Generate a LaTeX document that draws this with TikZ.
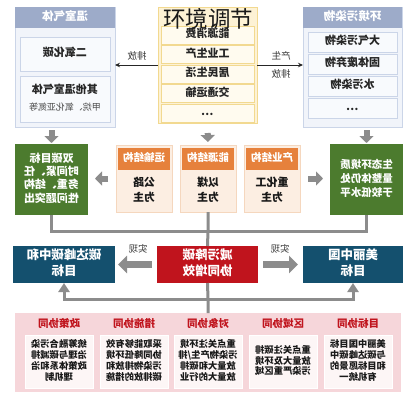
\documentclass[tikz,border=0pt]{standalone}
\usepackage{fontspec}
\setmainfont{Noto Sans CJK SC}
\usepackage{graphicx}
\usetikzlibrary{arrows.meta}
\definecolor{sidehead}{HTML}{9DABC9}
\definecolor{sidebg}{HTML}{F1F4FA}
\definecolor{sideline}{HTML}{CBD5E8}
\definecolor{siderow}{HTML}{F8FAFD}
\definecolor{cbg}{HTML}{FDF2D5}
\definecolor{cline}{HTML}{F2D990}
\definecolor{crowbg}{HTML}{FFFBEF}
\definecolor{ggreen}{HTML}{4C7B2E}
\definecolor{oorange}{HTML}{E6813C}
\definecolor{obg}{HTML}{FCEEE2}
\definecolor{oline}{HTML}{F5D7BE}
\definecolor{bblue}{HTML}{14506E}
\definecolor{rred}{HTML}{C0141D}
\definecolor{pinkbg}{HTML}{F6D6DA}
\definecolor{pwbg}{HTML}{FDF6F6}
\definecolor{agray}{HTML}{8C8C8C}
\newcommand{\mr}[1]{\reflectbox{\begin{tabular}{@{}c@{}}#1\end{tabular}}}
\tikzset{
  sbox/.style={draw=sideline, fill=sidebg, line width=0.8pt, minimum width=100pt, minimum height=120pt},
  shead/.style={fill=sidehead, minimum width=100pt, minimum height=21pt, text=white, font=\bfseries\fontsize{11.5}{13}\selectfont},
  srow/.style={draw=sideline, fill=siderow, line width=0.6pt, minimum width=89pt, minimum height=20pt, text=black!85, font=\bfseries\fontsize{11}{13}\selectfont},
  cbox/.style={draw=cline, fill=cbg, line width=0.8pt, minimum width=99pt, minimum height=116pt},
  crow/.style={draw=cline, fill=crowbg, line width=0.6pt, minimum width=93pt, minimum height=18pt, text=black!85, font=\bfseries\fontsize{11}{13}\selectfont},
  lab/.style={text=black!80, font=\fontsize{9.5}{11}\selectfont},
  thinarrow/.style={draw=black!85, line width=0.9pt, -{Stealth[length=5pt,width=4.5pt]}},
  blk/.style={draw=agray, line width=6pt, -{Triangle[width=14pt,length=7pt]}},
  blkw/.style={draw=agray, line width=7.5pt, -{Triangle[width=17pt,length=9pt]}},
  conn/.style={draw=agray, line width=3pt},
  gbox/.style={fill=ggreen, minimum width=73pt, minimum height=71pt, text=white, font=\bfseries\fontsize{11}{13}\selectfont},
  obox/.style={draw=oline, fill=obg, line width=0.6pt, minimum width=56pt, minimum height=67pt},
  ohead/.style={fill=oorange, minimum width=52pt, minimum height=22pt, text=white, font=\bfseries\fontsize{10.5}{12}\selectfont},
  otext/.style={text=black!90, font=\bfseries\fontsize{11}{15}\selectfont},
  bbox/.style={fill=bblue, minimum height=37pt, text=white, font=\bfseries\fontsize{12.5}{16}\selectfont},
  rbox/.style={fill=rred, minimum height=37pt, text=white, font=\bfseries\fontsize{12.5}{16}\selectfont},
  pbox/.style={fill=pinkbg, minimum width=386pt, minimum height=79pt},
  phead/.style={text=rred, font=\bfseries\fontsize{10.5}{12}\selectfont},
  pw/.style={fill=pwbg, draw=white, line width=0.5pt, minimum width=68pt, minimum height=53pt, text=black!90, font=\bfseries\fontsize{9.3}{9.6}\selectfont},
  titlestyle/.style={text=black!90, font=\fontsize{22.5}{24}\selectfont},
}
\begin{document}
\begin{tikzpicture}[x=1pt,y=-1pt, every node/.append style={inner sep=0pt, outer sep=0pt}]
\useasboundingbox[fill=white] (0,0) rectangle (418,400);

% top left box
\node[sbox] (tl) at (65,67) {};
\node[shead] (tlh) at (65,17.5) {\mr{温室气体}};
\node[srow, minimum width=90pt, minimum height=34pt] (tl1) at (65,54) {\mr{二氧化碳}};
\node[srow, minimum width=90pt, minimum height=46pt] (tl2) at (65,99) {\mr{其他温室气体\\[4pt]{\mdseries\color{black!70}\fontsize{9}{11}\selectfont 甲烷、氧化亚氮等}}};

% top right box
\node[sbox, minimum width=99pt] (tr) at (352.5,67) {};
\node[shead, minimum width=99pt] (trh) at (352.5,17.5) {\mr{环境污染物}};
\node[srow] (tr1) at (352.5,42) {\mr{大气污染物}};
\node[srow] (tr2) at (352.5,64) {\mr{固体废弃物}};
\node[srow] (tr3) at (352.5,86) {\mr{水污染物}};
\node[srow] (tr4) at (352.5,108) {\mr{…}};

% center box
\node[cbox] (cb) at (207.5,65) {};
\node[crow] (c1) at (207.5,35) {\mr{能源消费}};
\node[crow] (c2) at (207.5,54.5) {\mr{工业生产}};
\node[crow] (c3) at (207.5,74) {\mr{居民生活}};
\node[crow] (c4) at (207.5,93.5) {\mr{交通运输}};
\node[crow] (c5) at (207.5,113) {\mr{…}};
\node[titlestyle] (title) at (208,19) {环境调节};

% top arrows
\draw[thinarrow] (cb.west) -- (cb.west -| tl.east);
\draw[thinarrow] (cb.east) -- (cb.east -| tr.west);
\node[lab] (l1) at (137,57) {\mr{排放}};
\node[lab] (l2) at (281,57) {\mr{产生}};
\node[lab] (l3) at (281,75) {\mr{排放}};

% green boxes
\node[gbox] (gl) at (51.5,179.5) {\mr{双碳目标\\时间紧、任\\务重、结构\\性问题突出}};
\node[gbox, font=\bfseries\fontsize{10.5}{14}\selectfont] (gr) at (366.5,179.5) {\mr{生态环境质\\量整体仍处\\于较低水平}};

% orange boxes
\node[obox] (ob1) at (144,178.5) {};
\node[ohead] (oh1) at (144,159) {\mr{运输结构}};
\node[otext] (ot1) at (144,190.5) {\mr{公路\\为主}};
\node[obox] (ob2) at (208,178.5) {};
\node[ohead] (oh2) at (208,159) {\mr{能源结构}};
\node[otext] (ot2) at (208,190.5) {\mr{以煤\\为主}};
\node[obox] (ob3) at (272,178.5) {};
\node[ohead] (oh3) at (272,159) {\mr{产业结构}};
\node[otext] (ot3) at (272,190.5) {\mr{重化工\\为主}};

% gray block arrows (upper)
\draw[blk, shorten <=3pt, shorten >=1pt] (gl.north |- tl.south) -- (gl.north);
\draw[blk, shorten <=3pt, shorten >=1pt] (gr.north |- tr.south) -- (gr.north);
\draw[blk, shorten <=10pt, shorten >=3pt] (cb.south) -- (ob2.north);
\draw[blk, shorten <=8pt, shorten >=7pt] (ob1.west) -- (ob1.west -| gl.east);
\draw[blk, shorten <=8pt, shorten >=7pt] (ob3.east) -- (ob3.east -| gr.west);

% row 4
\node[bbox, minimum width=102pt] (bl) at (64,264.5) {\mr{碳达峰碳中和\\目标}};
\node[rbox, minimum width=101pt] (rd) at (207.5,264.5) {\mr{减污降碳\\协同增效}};
\node[bbox, minimum width=100pt] (br) at (353,264.5) {\mr{美丽中国\\目标}};

% connectors to red box
\coordinate (j1) at (208,231);
\draw[conn] (gl.south) |- (j1);
\draw[conn] (gr.south) |- (j1);
\draw[conn] (ob2.south) -- (j1) -- (rd.north);

% realize arrows
\draw[blkw, shorten <=5pt, shorten >=3pt] (rd.west) -- (bl.east);
\draw[blkw, shorten <=5pt, shorten >=5pt] (rd.east) -- (br.west);
\node[lab] (s1) at (138,250) {\mr{实现}};
\node[lab] (s2) at (280,250) {\mr{实现}};

% bottom container
\node[pbox] (bc) at (208,352.5) {};
\coordinate (j2) at (208,299);
\draw[conn] (rd.south) -- (j2) -- (bc.north);
\draw[conn, -{Triangle[width=11pt,length=9pt]}] (j2) -| (bl.south);
\draw[conn, -{Triangle[width=11pt,length=9pt]}] (j2) -| (br.south);

\node[phead] (ph1) at (59,325) {\mr{政策协同}};
\node[pw] (pw1) at (59,361.5) {\mr{统筹融合污染\\治理与碳减排\\政策体系和治\\理机制}};
\node[phead] (ph2) at (134,325) {\mr{措施协同}};
\node[pw] (pw2) at (134,361.5) {\mr{采取能够有效\\协同降低环境\\污染物排放和\\碳排放的措施}};
\node[phead] (ph3) at (208,325) {\mr{对象协同}};
\node[pw] (pw3) at (208,361.5) {\mr{重点关注环境\\污染物产生/排\\放量大和碳排\\放量大的行业}};
\node[phead] (ph4) at (283,325) {\mr{区域协同}};
\node[pw] (pw4) at (283,361.5) {\mr{重点关注碳排\\放量大及环境\\污染严重区域}};
\node[phead] (ph5) at (358,325) {\mr{目标协同}};
\node[pw] (pw5) at (358,361.5) {\mr{美丽中国目标\\与碳达峰碳中\\和目标愿景的\\有机统一}};
\end{tikzpicture}
\end{document}
